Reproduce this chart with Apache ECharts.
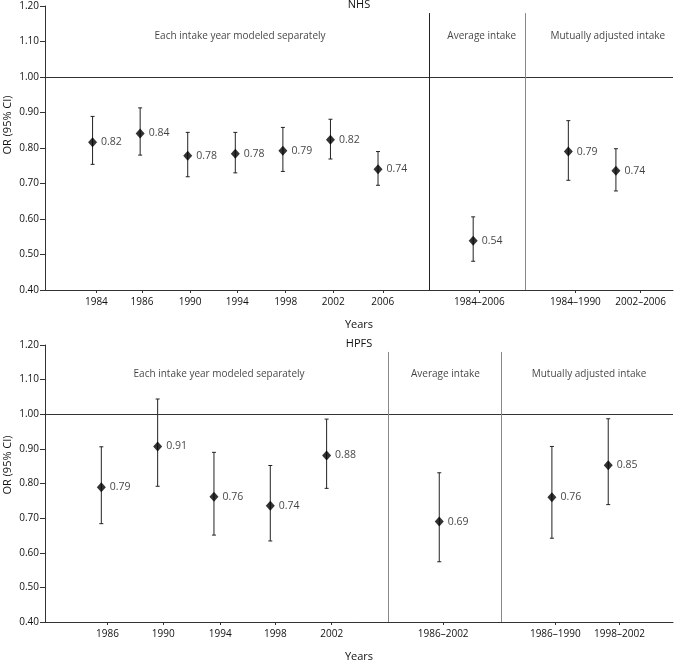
<!DOCTYPE html>
<html>
<head>
    <meta charset="UTF-8">
    <title>OR plot</title>
    <script src="https://cdn.jsdelivr.net/npm/echarts@6/dist/echarts.min.js"></script>
    <style>
        html, body { margin: 0; padding: 0; background: #fff; }
        #chartDom { width: 674px; height: 663px; }
    </style>
</head>
<body>
<div id="chartDom"></div>

<script type="text/javascript">
    // section headers, same for both panels
    const sections = ['Each intake year modeled separately', 'Average intake', 'Mutually adjusted intake'];

    // NHS panel
    const nhsPos = [1, 2, 3, 4, 5, 6, 7, 9, 11, 12];
    const nhsOR = [0.816, 0.841, 0.778, 0.784, 0.792, 0.823, 0.740, 0.539, 0.790, 0.736];
    const nhsLow = [0.754, 0.780, 0.719, 0.730, 0.734, 0.769, 0.695, 0.481, 0.709, 0.679];
    const nhsHigh = [0.889, 0.913, 0.844, 0.844, 0.858, 0.881, 0.790, 0.606, 0.877, 0.798];
    const nhsText = ['0.82', '0.84', '0.78', '0.78', '0.79', '0.82', '0.74', '0.54', '0.79', '0.74'];
    const nhsTicks = ['1984', '1986', '1990', '1994', '1998', '2002', '2006', '1984–2006', '1984–1990', '2002–2006'];
    const nhsTickPos = [1.08, 2.04, 3.05, 4.04, 5.06, 6.06, 7.1, 9.13, 11.15, 12.52];
    const nhsSplits = [8.07, 10.1];
    const nhsSectionPos = [4.1, 9.18, 11.83];

    // HPFS panel
    const hpfsPos = [1, 2, 3, 4, 5, 7, 9, 10];
    const hpfsOR = [0.789, 0.907, 0.762, 0.736, 0.881, 0.690, 0.760, 0.853];
    const hpfsLow = [0.684, 0.792, 0.651, 0.634, 0.786, 0.574, 0.642, 0.739];
    const hpfsHigh = [0.906, 1.044, 0.890, 0.852, 0.986, 0.831, 0.907, 0.987];
    const hpfsText = ['0.79', '0.91', '0.76', '0.74', '0.88', '0.69', '0.76', '0.85'];
    const hpfsTicks = ['1986', '1990', '1994', '1998', '2002', '1986–2002', '1986–1990', '1998–2002'];
    const hpfsTickPos = [1.11, 2.10, 3.11, 4.09, 5.09, 7.07, 9.06, 10.2];
    const hpfsSplits = [6.09, 8.1];
    const hpfsSectionPos = [3.09, 7.11, 9.66];

    const FONT = 'Open Sans';
    const INK = '#111';

    var myChart = echarts.init(document.getElementById('chartDom'));

    // axis label text for a tick position
    function tickName(pos, names) {
        return function (v) {
            let best = 0;
            pos.forEach(function (p, i) {
                if (Math.abs(p - v) < Math.abs(pos[best] - v)) best = i;
            });
            return names[best];
        };
    }

    function xAxisFor(idx, max, pos, names) {
        return {
            type: 'value', gridIndex: idx, min: 0, max: max,
            name: 'Years', nameLocation: 'middle', nameGap: 29,
            nameTextStyle: { fontFamily: FONT, fontSize: 11, color: INK },
            axisLine: { show: true, lineStyle: { color: '#333', width: 1 } },
            axisTick: { show: true, length: 3, customValues: pos, lineStyle: { color: '#333' } },
            axisLabel: {
                customValues: pos, formatter: tickName(pos, names),
                fontFamily: FONT, fontSize: 10, color: INK, margin: 7
            },
            splitLine: { show: false }
        };
    }

    function yAxisFor(idx) {
        return {
            type: 'value', gridIndex: idx, min: 0.4, max: 1.2, interval: 0.1,
            axisLine: { show: true, lineStyle: { color: '#333', width: 1 } },
            axisTick: { show: true, length: 5, lineStyle: { color: '#333' } },
            axisLabel: {
                fontFamily: FONT, fontSize: 10, color: INK, margin: 6,
                formatter: function (v) { return v.toFixed(2); }
            },
            splitLine: { show: false }
        };
    }

    function errorBars(idx, pos, low, high) {
        return {
            type: 'custom', xAxisIndex: idx, yAxisIndex: idx,
            data: pos.map(function (p, i) { return [p, low[i], high[i]]; }),
            encode: { x: 0, y: [1, 2] },
            silent: true, z: 2,
            renderItem: function (params, api) {
                const x = api.value(0);
                const lo = api.coord([x, api.value(1)]);
                const hi = api.coord([x, api.value(2)]);
                const c = 2;
                const st = { stroke: '#222', lineWidth: 1 };
                return {
                    type: 'group',
                    children: [
                        { type: 'line', shape: { x1: lo[0], y1: lo[1], x2: hi[0], y2: hi[1] }, style: st },
                        { type: 'line', shape: { x1: hi[0] - c, y1: hi[1], x2: hi[0] + c, y2: hi[1] }, style: st },
                        { type: 'line', shape: { x1: lo[0] - c, y1: lo[1], x2: lo[0] + c, y2: lo[1] }, style: st }
                    ]
                };
            }
        };
    }

    function points(idx, pos, or, text, splits, splitColors) {
        return {
            type: 'scatter', xAxisIndex: idx, yAxisIndex: idx,
            symbol: 'diamond', symbolSize: [9, 10], z: 3,
            itemStyle: { color: '#000' },
            data: pos.map(function (p, i) { return [p, or[i]]; }),
            label: {
                show: true, position: 'right', distance: 4,
                fontFamily: FONT, fontSize: 10.5, color: INK,
                formatter: function (p) { return text[p.dataIndex]; }
            },
            markLine: {
                silent: true, symbol: 'none', label: { show: false },
                data: [{ yAxis: 1.0, lineStyle: { color: '#333', width: 1, type: 'solid' } }].concat(
                    splits.map(function (s, i) {
                        return [
                            { coord: [s, 0.4], lineStyle: { color: splitColors[i], width: 1, type: 'solid' } },
                            { coord: [s, 1.18] }
                        ];
                    })
                )
            }
        };
    }

    function sectionLabels(idx, pos) {
        return {
            type: 'scatter', xAxisIndex: idx, yAxisIndex: idx,
            symbolSize: 0, silent: true,
            data: pos.map(function (p) { return [p, 1.115]; }),
            label: {
                show: true, position: 'inside',
                fontFamily: FONT, fontSize: 10, color: INK,
                formatter: function (p) { return sections[p.dataIndex]; }
            }
        };
    }

    var option = {
        animation: false,
        backgroundColor: '#fff',
        grid: [
            { left: 45, right: 1, top: 6, height: 284 },
            { left: 45, right: 1, top: 345, height: 283 }
        ],
        xAxis: [
            xAxisFor(0, 13.2, nhsTickPos, nhsTicks),
            xAxisFor(1, 11.15, hpfsTickPos, hpfsTicks)
        ],
        yAxis: [yAxisFor(0), yAxisFor(1)],
        graphic: [
            { type: 'text', x: 359, y: 5, style: { text: 'NHS', fontFamily: FONT, fontSize: 11, fill: INK, textAlign: 'center', textVerticalAlign: 'middle' } },
            { type: 'text', x: 359, y: 344, style: { text: 'HPFS', fontFamily: FONT, fontSize: 11, fill: INK, textAlign: 'center', textVerticalAlign: 'middle' } },
            { type: 'text', x: 8, y: 125, rotation: Math.PI / 2, style: { text: 'OR (95% CI)', fontFamily: FONT, fontSize: 11, fill: INK, textAlign: 'center', textVerticalAlign: 'middle' } },
            { type: 'text', x: 8, y: 465, rotation: Math.PI / 2, style: { text: 'OR (95% CI)', fontFamily: FONT, fontSize: 11, fill: INK, textAlign: 'center', textVerticalAlign: 'middle' } }
        ],
        series: [
            errorBars(0, nhsPos, nhsLow, nhsHigh),
            points(0, nhsPos, nhsOR, nhsText, nhsSplits, ['#222', '#888']),
            sectionLabels(0, nhsSectionPos),
            errorBars(1, hpfsPos, hpfsLow, hpfsHigh),
            points(1, hpfsPos, hpfsOR, hpfsText, hpfsSplits, ['#888', '#888']),
            sectionLabels(1, hpfsSectionPos)
        ]
    };

    myChart.setOption(option);
</script>
</body>
</html>
